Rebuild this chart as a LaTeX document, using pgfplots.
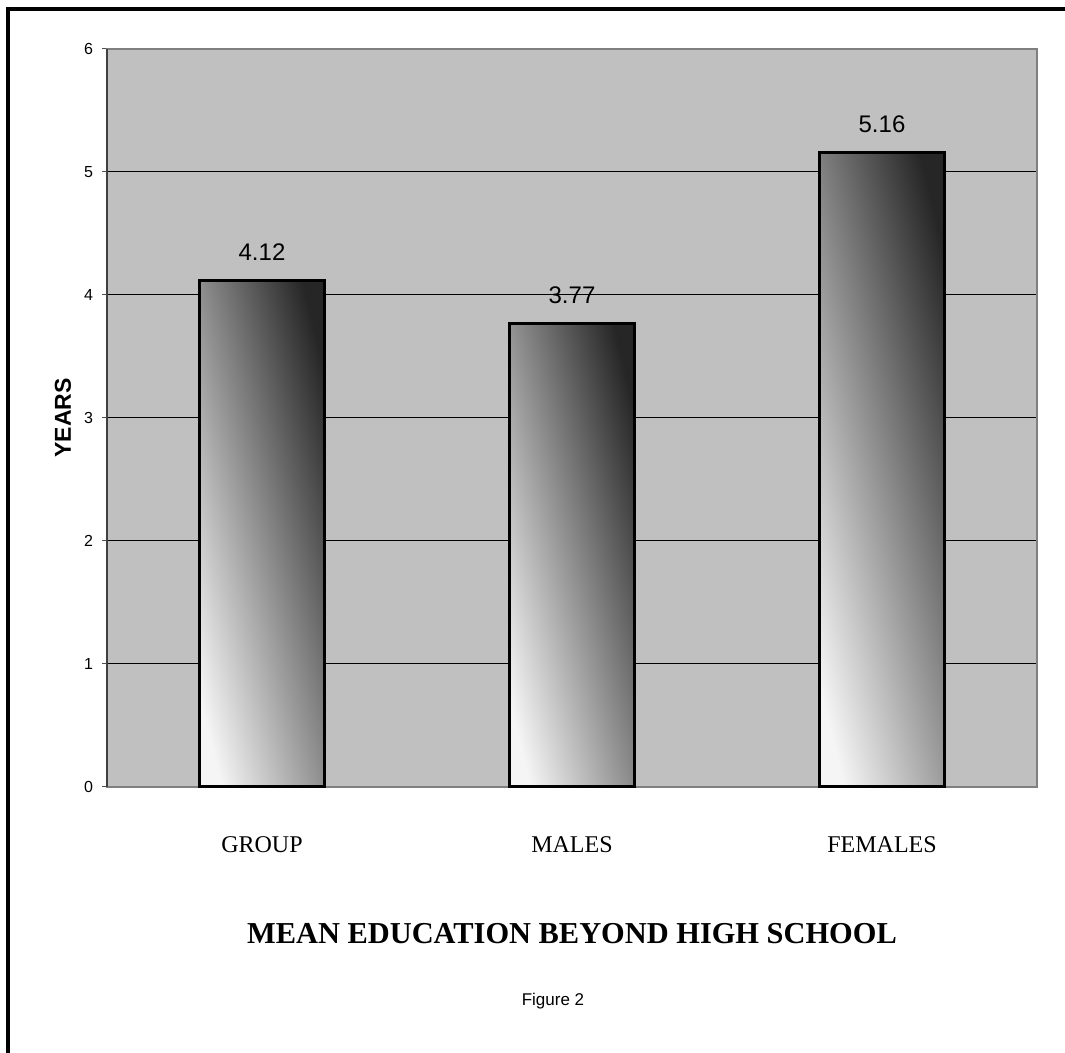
\documentclass[border=0pt]{standalone}
\usepackage{pgfplots}
\pgfplotsset{compat=1.18}
\usepackage{fontspec}
\setmainfont{Liberation Sans}
\newfontfamily\serif{Liberation Serif}
\definecolor{plotbg}{HTML}{C0C0C0}
\definecolor{frameg}{HTML}{808080}
\tikzset{mybar/.style={draw=black, line width=1.5pt, top color=black!85, bottom color=white!96!black, shading angle=-76}}
\begin{document}
\begin{tikzpicture}
\useasboundingbox (0,0) rectangle (532.5pt,526.5pt);
\draw[line width=2pt] (4pt,0) -- (4pt,522.1pt) -- (532.5pt,522.1pt);
\begin{axis}[
  at={(53.5pt,133pt)}, anchor=south west,
  scale only axis, width=465pt, height=369pt,
  xmin=-0.5, xmax=2.5, ymin=0, ymax=6,
  axis background/.style={fill=plotbg},
  axis line style={draw=frameg, line width=1pt},
  ybar, bar width=62.5pt, bar shift=0pt,
  xtick={0,1,2}, xticklabels={GROUP,MALES,FEMALES},
  x tick style={draw=none},
  xticklabel style={font=\serif\fontsize{12}{14}\selectfont, anchor=base, yshift=-30.5pt},
  ytick={0,1,2,3,4,5,6}, ytick pos=left, tick align=outside,
  major tick length=2.5pt,
  y tick style={draw=black!70, line width=0.5pt},
  yticklabel style={font=\fontsize{8}{9}\selectfont, xshift=-1pt},
  /pgf/number format/assume math mode=true,
  ymajorgrids, grid style={draw=black, line width=0.5pt},
  nodes near coords,
  nodes near coords style={text=black, font=\fontsize{12}{14}\selectfont, anchor=base, inner sep=0pt, yshift=10pt, /pgf/number format/fixed, /pgf/number format/precision=2, /pgf/number format/fixed zerofill},
  clip=false,
]
\addplot[mybar] coordinates {(0,4.12)};
\addplot[mybar] coordinates {(1,3.77)};
\addplot[mybar] coordinates {(2,5.16)};
\draw[black!75, line width=0.6pt] (axis cs:-0.5,0) -- (axis cs:-0.5,6);
\end{axis}
\node[rotate=90, font=\fontsize{11.5}{13}\selectfont\bfseries] at (31.5pt,317.5pt) {YEARS};
\node[font=\serif\bfseries\fontsize{15.2}{18}\selectfont] at (286pt,59.5pt) {MEAN EDUCATION BEYOND HIGH SCHOOL};
\node[font=\fontsize{8.5}{10}\selectfont] at (276.5pt,26pt) {Figure 2};
\end{tikzpicture}
\end{document}
